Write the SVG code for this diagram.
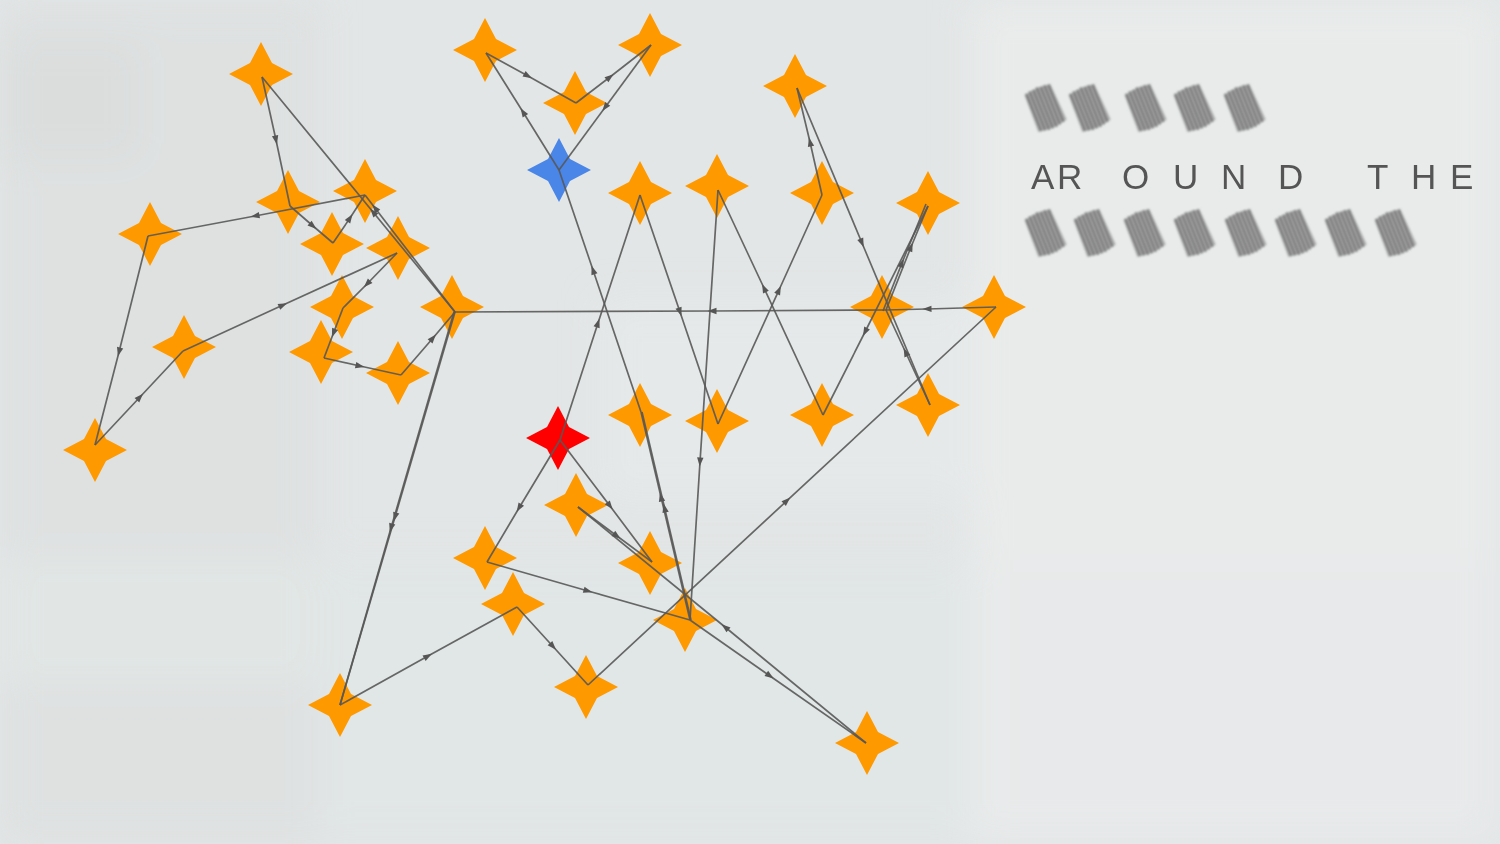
<svg xmlns="http://www.w3.org/2000/svg" width="1500" height="844" viewBox="0 0 1500 844">
<style>
.e{fill:none;stroke:#585858;stroke-width:1.7;stroke-opacity:0.9;marker-mid:url(#arr)}
.o{fill:#ff9900}
.b{fill:#4a86e8}
.r{fill:#ff0000}
.t{font-family:"Liberation Sans",Arial,sans-serif;font-size:35px;fill:#555555}
.hl{stroke:#7a7a7a;stroke-width:2.4}
</style>
<defs>
<filter id="soft" x="-20%" y="-20%" width="140%" height="140%"><feGaussianBlur stdDeviation="18"/></filter>
<filter id="fz" x="-30%" y="-30%" width="160%" height="160%"><feGaussianBlur stdDeviation="1.2"/></filter>
<marker id="arr" viewBox="-5 -4 10 8" markerWidth="10" markerHeight="8" refX="0" refY="0" orient="auto" markerUnits="userSpaceOnUse">
<path d="M-4.5,-3.2 L4.5,0 L-4.5,3.2 Z" fill="#555555"/>
</marker>
<path id="star" d="M0,-32 L11,-11 L32,0 L11,11 L0,32 L-11,11 L-32,0 L-11,-11 Z"/>
<g id="blk" filter="url(#fz)">
<g transform="rotate(-22)">
<path d="M1,2 Q15,-2 29,1 L31,40 Q16,44 0,41 Z" fill="#a0a0a0" fill-opacity="0.85"/>
<path class="hl" d="M3,1V41M7,0V42M11,0V43M15,-1V43M19,0V43M23,0V42M27,1V41"/>
</g>
</g>
</defs>

<g id="background">
<rect x="0" y="0" width="1500" height="844" fill="#e3e6e6"/>
<g filter="url(#soft)">
<rect x="0" y="0" width="320" height="844" fill="#dde0e0" opacity="0.8"/>
<rect x="970" y="0" width="530" height="844" fill="#e9ebeb"/>
<rect x="0" y="40" width="140" height="120" fill="#d8dbdb" opacity="0.6"/>
<rect x="0" y="560" width="320" height="120" fill="#e2e7e6" opacity="0.8"/>
<rect x="320" y="560" width="650" height="284" fill="#e0e5e6" opacity="0.7"/>
<rect x="600" y="300" width="370" height="200" fill="#e6e9e9" opacity="0.7"/>
<rect x="1000" y="560" width="500" height="284" fill="#e6e9ea" opacity="0.8"/>
</g>
</g>

<g id="n1"><use href="#star" class="o" x="261" y="74"/></g>
<g id="n2"><use href="#star" class="o" x="485" y="50"/></g>
<g id="n3"><use href="#star" class="o" x="650" y="45"/></g>
<g id="n4"><use href="#star" class="o" x="575" y="103"/></g>
<g id="n5"><use href="#star" class="b" x="559" y="170"/></g>
<g id="n6"><use href="#star" class="o" x="795" y="86"/></g>
<g id="n7"><use href="#star" class="o" x="150" y="234"/></g>
<g id="n8"><use href="#star" class="o" x="288" y="202"/></g>
<g id="n9"><use href="#star" class="o" x="365" y="191"/></g>
<g id="n10"><use href="#star" class="o" x="332" y="244"/></g>
<g id="n11"><use href="#star" class="o" x="398" y="248"/></g>
<g id="n12"><use href="#star" class="o" x="452" y="307"/></g>
<g id="n13"><use href="#star" class="o" x="342" y="307"/></g>
<g id="n14"><use href="#star" class="o" x="321" y="352"/></g>
<g id="n15"><use href="#star" class="o" x="398" y="373"/></g>
<g id="n16"><use href="#star" class="o" x="184" y="347"/></g>
<g id="n17"><use href="#star" class="o" x="95" y="450"/></g>
<g id="n18"><use href="#star" class="o" x="640" y="193"/></g>
<g id="n19"><use href="#star" class="o" x="717" y="186"/></g>
<g id="n20"><use href="#star" class="o" x="822" y="193"/></g>
<g id="n21"><use href="#star" class="o" x="928" y="203"/></g>
<g id="n22"><use href="#star" class="o" x="882" y="307"/></g>
<g id="n23"><use href="#star" class="o" x="994" y="307"/></g>
<g id="n24"><use href="#star" class="o" x="640" y="415"/></g>
<g id="n25"><use href="#star" class="o" x="717" y="421"/></g>
<g id="n26"><use href="#star" class="o" x="822" y="415"/></g>
<g id="n27"><use href="#star" class="o" x="928" y="405"/></g>
<g id="n28"><use href="#star" class="r" x="558" y="438"/></g>
<g id="n29"><use href="#star" class="o" x="576" y="505"/></g>
<g id="n30"><use href="#star" class="o" x="485" y="558"/></g>
<g id="n31"><use href="#star" class="o" x="650" y="563"/></g>
<g id="n32"><use href="#star" class="o" x="513" y="604"/></g>
<g id="n33"><use href="#star" class="o" x="685" y="620"/></g>
<g id="n34"><use href="#star" class="o" x="586" y="687"/></g>
<g id="n35"><use href="#star" class="o" x="340" y="705"/></g>
<g id="n36"><use href="#star" class="o" x="867" y="743"/></g>

<g id="connectors">
<polyline class="e" points="455,312 373,212 262,77"/>
<polyline class="e" points="455,312 375,208 365,195"/>
<polyline class="e" points="262,77 276,140 290,206"/>
<polyline class="e" points="290,206 313,226 333,243"/>
<polyline class="e" points="333,243 350,218 365,195"/>
<polyline class="e" points="365,195 255,216 148,236"/>
<polyline class="e" points="148,236 119,352 95,445"/>
<polyline class="e" points="95,445 140,397 183,351"/>
<polyline class="e" points="183,351 283,305 397,253"/>
<polyline class="e" points="397,253 367,284 343,308"/>
<polyline class="e" points="343,308 333.5,333 324,358"/>
<polyline class="e" points="324,358 360,366 401,375"/>
<polyline class="e" points="401,375 433,338 455,312"/>
<polyline class="e" points="486,53 528,76 576,103"/>
<polyline class="e" points="576,103 610,77 651,45"/>
<polyline class="e" points="651,45 605,107.5 559,170"/>
<polyline class="e" points="559,170 523,112 486,53"/>
<polyline class="e" points="641,412 593,270 559,170"/>
<polyline class="e" points="560,440 598,323 640,195"/>
<polyline class="e" points="640,195 680,312 718,424"/>
<polyline class="e" points="718,424 779,290 822,195"/>
<polyline class="e" points="822,195 810,142 797,88"/>
<polyline class="e" points="797,88 862,243 930,405"/>
<polyline class="e" points="930,405 905.5,352 886,310"/>
<polyline class="e" points="886,310 911,247 928,206"/>
<polyline class="e" points="883,311 902,263 926,204"/>
<polyline class="e" points="928,206 865,332 823,415"/>
<polyline class="e" points="823,415 764,288 718,190"/>
<polyline class="e" points="718,190 700,462 690,620"/>
<polyline class="e" points="996,307 927,309 886,310"/>
<polyline class="e" points="886,310 712,311 455,312"/>
<polyline class="e" points="487,562 588,591 690,620"/>
<polyline class="e" points="690,620 770,676 866,743"/>
<polyline class="e" points="866,743 725,627 578,507"/>
<polyline class="e" points="578,507 617,536 652,562"/>
<polyline class="e" points="560,440 610,506 652,562"/>
<polyline class="e" points="560,440 519,508 487,562"/>
<polyline class="e" points="690,620 661,497 641,412"/>
<polyline class="e" points="691,620 664.6,508 642,412"/>
<polyline class="e" points="455,312 395,517 340,705"/>
<polyline class="e" points="454,312 391,528 340,705"/>
<polyline class="e" points="340,705 428,656 517,607"/>
<polyline class="e" points="517,607 553,646.5 588,685"/>
<polyline class="e" points="588,685 787,500.6 996,307"/>
</g>

<g id="title">
<use href="#blk" x="1023" y="94"/>
<use href="#blk" x="1067" y="94"/>
<use href="#blk" x="1123" y="94"/>
<use href="#blk" x="1172" y="94"/>
<use href="#blk" x="1222" y="94"/>
<text class="t" x="1031 1057 1122 1173 1221 1278 1310 1367 1411 1450" y="189">AROUND THE</text>
<use href="#blk" x="1023" y="219"/>
<use href="#blk" x="1072" y="219"/>
<use href="#blk" x="1122" y="219"/>
<use href="#blk" x="1172" y="219"/>
<use href="#blk" x="1223" y="219"/>
<use href="#blk" x="1273" y="219"/>
<use href="#blk" x="1323" y="219"/>
<use href="#blk" x="1373" y="219"/>
</g>
</svg>
